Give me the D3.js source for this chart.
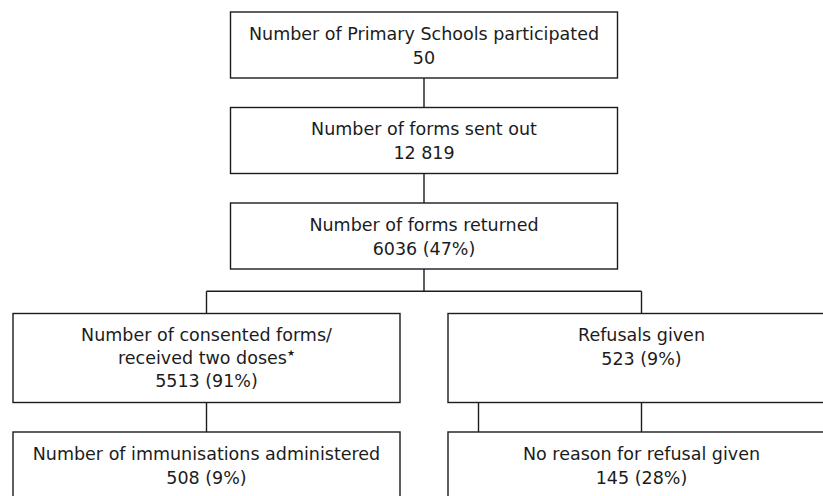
<!DOCTYPE html>
<html>
<head>
<meta charset="utf-8">
<script src="https://cdn.jsdelivr.net/npm/d3@7"></script>
<style>
  body { margin: 0; background: #fff; }
  svg { display: block; }
</style>
</head>
<body>
<div id="chart"></div>
<script>
// flowchart data
var nodeTitles = [
    ['Number of Primary Schools participated'],
    ['Number of forms sent out'],
    ['Number of forms returned'],
    ['Number of consented forms/', 'received two doses'],
    ['Refusals given'],
    ['Number of immunisations administered'],
    ['No reason for refusal given']
];
var nodeCounts = [50, 12819, 6036, 5513, 523, 508, 145];
var nodePercents = [null, null, 47, 91, 9, 9, 28];
var nodeFootnote = [false, false, false, true, false, false, false];
var nodeRows = [0, 1, 2, 3, 3, 4, 4];
var nodeCols = ['left', 'centre', 'right'];
var nodeColumn = ['centre', 'centre', 'centre', 'left', 'right', 'left', 'right'];
// parent -> child links
var linkSource = [0, 1, 2, 2, 3, 4, 4];
var linkTarget = [1, 2, 3, 4, 5, 6, 6];
var linkDropOffset = [0, 0, 0, 0, 0, 0, -163];

var width = 823, height = 496;
var boxW = 387, lineH = 24;
var gap = 29.5, branchGap = 44.5;
var fontSize = 17.5;

var svg = d3.select('#chart').append('svg')
    .attr('width', width)
    .attr('height', height);

// x scale: columns
var x = d3.scalePoint().domain(nodeCols).range([206.5, 641.5]);

// number of text lines per node
function lineCount(i) {
    return nodeTitles[i].length + 1;
}

// row heights
var nRows = d3.max(nodeRows) + 1;
var rowH = d3.range(nRows).map(function(r) {
    var m = d3.max(d3.range(nodeRows.length).filter(function(i) { return nodeRows[i] === r; }), lineCount);
    return (m - 2) * 23 + 66;
});

// a row gets a branch gap if some parent above it splits into several children
var bySource = d3.group(d3.range(linkSource.length), function(k) { return linkSource[k]; });
var rowBranch = d3.range(nRows).map(function() { return false; });
bySource.forEach(function(ks) {
    var targets = new Set(ks.map(function(k) { return linkTarget[k]; }));
    if (targets.size > 1) rowBranch[nodeRows[linkTarget[ks[0]]]] = true;
});

var rowTop = [];
var yCursor = 12;
for (var r = 0; r < nRows; r++) {
    if (r > 0) yCursor += rowBranch[r] ? branchGap : gap;
    rowTop.push(yCursor);
    yCursor += rowH[r];
}
var y = d3.scaleOrdinal().domain(d3.range(nRows)).range(rowTop);

function fmtCount(n) {
    if (n >= 10000) return d3.format(',')(n).replace(/,/g, ' ');
    return String(n);
}

var ink = '#1c1c1c';

// links
var linkG = svg.append('g')
    .attr('fill', 'none')
    .attr('stroke', ink)
    .attr('stroke-width', 1.4);

bySource.forEach(function(ks, s) {
    var sx = x(nodeColumn[s]);
    var sBottom = y(nodeRows[s]) + rowH[nodeRows[s]];
    var targets = Array.from(new Set(ks.map(function(k) { return linkTarget[k]; })));
    if (targets.length > 1) {
        var tTop = y(nodeRows[targets[0]]);
        var midY = (sBottom + tTop) / 2;
        var xs = targets.map(function(t) { return x(nodeColumn[t]); });
        linkG.append('path').attr('d', d3.line()([[sx, sBottom], [sx, midY]]));
        linkG.append('path').attr('d', d3.line()([[d3.min(xs), midY], [d3.max(xs), midY]]));
        xs.forEach(function(tx) {
            linkG.append('path').attr('d', d3.line()([[tx, midY], [tx, tTop]]));
        });
    } else {
        ks.forEach(function(k) {
            var t = linkTarget[k];
            var tx = x(nodeColumn[t]) + linkDropOffset[k];
            var tTop = y(nodeRows[t]);
            linkG.append('path').attr('d', d3.line()([[tx, sBottom], [tx, tTop]]));
        });
    }
});

// boxes
var nodes = svg.selectAll('g.node')
    .data(d3.range(nodeTitles.length))
    .join('g')
    .attr('class', 'node');

nodes.append('rect')
    .attr('x', function(i) { return x(nodeColumn[i]) - boxW / 2; })
    .attr('y', function(i) { return y(nodeRows[i]); })
    .attr('width', boxW)
    .attr('height', function(i) { return rowH[nodeRows[i]]; })
    .attr('fill', '#fff')
    .attr('stroke', ink)
    .attr('stroke-width', 1.4);

var text = nodes.append('text')
    .attr('text-anchor', 'middle')
    .attr('font-family', '"DejaVu Sans", sans-serif')
    .attr('font-size', fontSize)
    .attr('fill', ink);

text.each(function(i) {
    var t = d3.select(this);
    var lines = nodeTitles[i].slice();
    var last = nodePercents[i] === null ? fmtCount(nodeCounts[i])
        : fmtCount(nodeCounts[i]) + ' (' + nodePercents[i] + '%)';
    lines.push(last);
    var cx = x(nodeColumn[i]);
    var top = y(nodeRows[i]);
    var base0 = top + 27.5;
    var step = lines.length > 2 ? 23 : lineH;
    lines.forEach(function(s, li) {
        t.append('tspan')
            .attr('x', cx)
            .attr('y', base0 + li * step)
            .text(s);
        if (nodeFootnote[i] && li === nodeTitles[i].length - 1) {
            t.append('tspan')
                .attr('font-size', 9)
                .attr('dy', -8)
                .text('\u2605');
        }
    });
});
</script>
</body>
</html>
